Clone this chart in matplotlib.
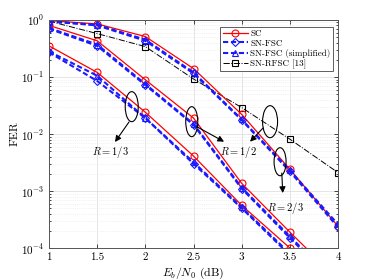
import numpy as np
import matplotlib
matplotlib.use("Agg")
import matplotlib.pyplot as plt
from matplotlib.patches import Ellipse
from matplotlib.ticker import LogLocator, NullFormatter, FixedLocator

plt.rcParams['font.family'] = 'serif'
plt.rcParams['font.serif'] = ['cmr10', 'DejaVu Serif']
plt.rcParams['mathtext.fontset'] = 'cm'
plt.rcParams['axes.formatter.use_mathtext'] = True

x = [1, 1.5, 2, 2.5, 3, 3.5, 4]
x13 = [1, 1.5, 2, 2.5, 3, 3.5]

sc_13 = [0.35, 0.12, 0.024, 0.0041, 5.6e-4, 1.0e-4]
sn_13 = [0.27, 0.085, 0.019, 0.0030, 5.0e-4, 7.5e-5]
sns_13 = [0.28, 0.105, 0.019, 0.0032, 5.2e-4, 8.0e-5]

sc_12 = [0.80, 0.43, 0.089, 0.019, 0.00136, 1.9e-4, 2.8e-5]
sn_12 = [0.70, 0.35, 0.072, 0.0145, 0.0011, 1.5e-4, 2.2e-5]
sns_12 = [0.72, 0.37, 0.075, 0.015, 0.00115, 1.6e-4, 2.3e-5]

sc_23 = [0.97, 0.85, 0.51, 0.14, 0.022, 0.0024, 2.4e-4]
sn_23 = [0.95, 0.80, 0.43, 0.115, 0.0175, 0.0022, 2.3e-4]
sns_23 = [0.93, 0.82, 0.45, 0.12, 0.018, 0.0023, 2.6e-4]

rfsc = [0.95, 0.575, 0.34, 0.092, 0.029, 0.0081, 0.0021]

labels = ['SC', 'SN-FSC', 'SN-FSC (simplified)', 'SN-RFSC [13]']

fig = plt.figure(figsize=(3.74, 2.8), dpi=100)
ax = fig.add_axes([0.131, 0.114, 0.773, 0.815])

sc_kw = dict(color='#ff0000', ls='-', lw=0.9, marker='o', ms=5, mfc='none', mew=0.8)
sn_kw = dict(color='#1a1aff', ls='--', lw=1.5, marker='D', ms=4, mfc='none', mew=0.8, dashes=(2.5, 1.3))
sns_kw = dict(color='#1a1aff', ls='--', lw=1.5, marker='^', ms=5, mfc='none', mew=0.8, dashes=(2.5, 1.3))
rf_kw = dict(color='black', ls='-.', lw=0.7, marker='s', ms=4, mfc='none', mew=0.8)

ax.plot(x13, sc_13, label=labels[0], **sc_kw)
ax.plot(x13, sn_13, label=labels[1], **sn_kw)
ax.plot(x13, sns_13, label=labels[2], **sns_kw)
ax.plot(x, rfsc, label=labels[3], **rf_kw)
for s, k in ((sc_12, sc_kw), (sn_12, sn_kw), (sns_12, sns_kw),
             (sc_23, sc_kw), (sn_23, sn_kw), (sns_23, sns_kw)):
    ax.plot(x, s, **k)

ax.set_yscale('log')
ax.set_xlim(1, 4)
ax.set_ylim(1e-4, 1)
ax.set_xticks([1, 1.5, 2, 2.5, 3, 3.5, 4])
ax.set_xticklabels(['1', '1.5', '2', '2.5', '3', '3.5', '4'])
ax.yaxis.set_major_locator(FixedLocator([1e-4, 1e-3, 1e-2, 1e-1, 1]))
ax.set_yticklabels([r'$10^{-4}$', r'$10^{-3}$', r'$10^{-2}$', r'$10^{-1}$', r'$10^{0}$'])
ax.yaxis.set_minor_locator(LogLocator(base=10, subs=np.arange(2, 10), numticks=20))
ax.yaxis.set_minor_formatter(NullFormatter())
ax.tick_params(which='both', direction='in', top=True, right=True, labelsize=8, length=3, width=0.5)
ax.tick_params(which='minor', length=1.5)
ax.grid(True, which='major', color='#e0e0e0', lw=0.6)
ax.grid(True, which='minor', axis='y', color='#e6e6e6', lw=0.5, ls=':')
ax.set_axisbelow(True)
for sp in ax.spines.values():
    sp.set_color('#555555')
    sp.set_linewidth(0.7)

ax.set_xlabel(r'$E_b/N_0$ (dB)', fontsize=8.5, labelpad=2)
ax.set_ylabel('FER', fontsize=8.5, labelpad=1)

leg = ax.legend(loc='upper right', fontsize=6.5, handlelength=2.8, borderpad=0.3,
                labelspacing=0.15, handletextpad=0.25, fancybox=False, framealpha=1,
                bbox_to_anchor=(0.983, 0.97), borderaxespad=0)
leg.get_frame().set_edgecolor('#444444')
leg.get_frame().set_linewidth(0.6)

W, H = 289.0, 228.0
def px2ax(px, py):
    return ((px - 49) / W, 1 - (py - 20) / H)

ells = [(131.7, 106.7, 13, 30), (191.7, 121.7, 12, 30), (270, 121.7, 15, 32), (280, 161.7, 12, 28)]
for cx, cy, w, h in ells:
    c = px2ax(cx, cy)
    ax.add_patch(Ellipse(c, w / W, h / H, transform=ax.transAxes, fill=False,
                         ec='black', lw=0.8, zorder=5))

arrows = [((129, 122), (115, 142)), ((196.7, 126.7), (224, 141.7)),
          ((263, 128), (250, 141.7)), ((281.7, 173), (282.7, 193))]
for (sx, sy), (tx, ty) in arrows:
    ax.annotate('', xy=px2ax(tx, ty), xycoords='axes fraction',
                xytext=px2ax(sx, sy), textcoords='axes fraction',
                arrowprops=dict(arrowstyle='-|>', color='black', lw=0.8,
                                mutation_scale=9, shrinkA=0, shrinkB=0), zorder=6)

texts = [((110, 152), r'$R=1/3$'), ((238, 151.7), r'$R=1/2$'), ((285, 208), r'$R=2/3$')]
for (tx, ty), t in texts:
    ax.text(*px2ax(tx, ty), t, transform=ax.transAxes, ha='center', va='center', fontsize=7.5)

fig.savefig('out.png', dpi=100)
